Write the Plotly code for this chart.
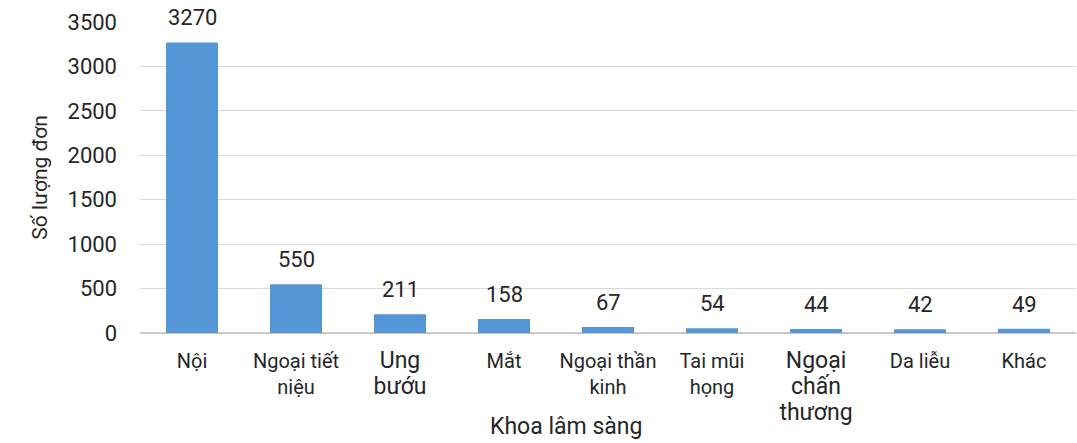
import plotly.graph_objects as go

categories = ["Nội", "Ngoại tiết niệu", "Ung bướu", "Mắt", "Ngoại thần kinh",
              "Tai mũi họng", "Ngoại chấn thương", "Da liễu", "Khác"]
tick_labels = ["Nội", "Ngoại tiết<br>niệu", "<span style='font-size:23px'>Ung<br>bướu</span>",
               "Mắt", "Ngoại thần<br>kinh", "Tai mũi<br>họng",
               "<span style='font-size:23px'>Ngoại<br>chấn<br>thương</span>", "Da liễu", "Khác"]
values = [3270, 550, 211, 158, 67, 54, 44, 42, 49]
y_ticks = [0, 500, 1000, 1500, 2000, 2500, 3000, 3500]

FONT = "Roboto"
TXT = "#262626"

fig = go.Figure()
fig.add_trace(go.Bar(
    x=categories, y=values,
    marker=dict(color="#5596d6", line=dict(width=0)),
    hoverinfo="x+y",
))

for c, v in zip(categories, values):
    fig.add_annotation(x=c, y=v, text=str(v), showarrow=False,
                       yanchor="bottom", yshift=10,
                       font=dict(family=FONT, size=22, color=TXT))

fig.add_annotation(x=0.455, y=0, xref="paper", yref="paper", yanchor="top",
                   yshift=-78, text="Khoa lâm sàng", showarrow=False,
                   font=dict(family=FONT, size=23, color=TXT))

fig.update_layout(
    width=1077, height=443,
    margin=dict(l=140, r=1, t=22, b=110),
    paper_bgcolor="white", plot_bgcolor="white",
    bargap=0.5,
    showlegend=False,
    font=dict(family=FONT, color=TXT),
    xaxis=dict(
        tickmode="array", tickvals=categories, ticktext=tick_labels,
        tickfont=dict(family=FONT, size=20, color=TXT),
        showgrid=False, showline=False, ticks="",
        ticklabelstandoff=14,
    ),
    yaxis=dict(
        range=[0, 3500], tickmode="array", tickvals=y_ticks,
        tickfont=dict(family=FONT, size=22, color=TXT),
        showgrid=True, gridcolor="#d9d9d9", gridwidth=1.3,
        zeroline=True, zerolinecolor="#c8c8c8", zerolinewidth=1.5,
        showline=False, ticks="",
        ticklabelstandoff=22,
        title=dict(text="Số lượng đơn", font=dict(family=FONT, size=21, color=TXT),
                   standoff=14),
    ),
)

fig.write_html("out.html")
